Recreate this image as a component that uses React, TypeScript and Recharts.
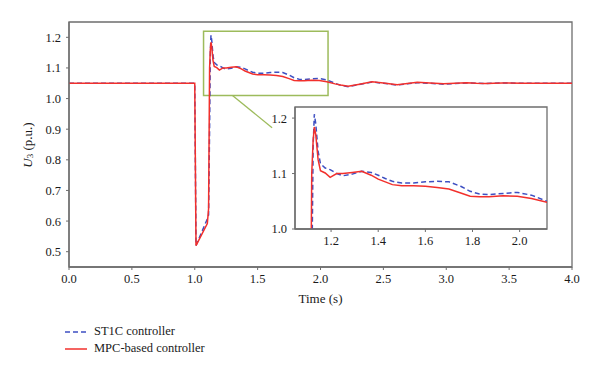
import React from "react";
import {
  Line,
  LineChart,
  ReferenceArea,
  ReferenceLine,
  XAxis,
  YAxis,
} from "recharts";

// time samples (s)
const time = [
  0, 1.0, 1.01, 1.1, 1.11, 1.118, 1.124, 1.129, 1.135, 1.145, 1.155, 1.175,
  1.196, 1.224, 1.25, 1.29, 1.33, 1.37, 1.4, 1.43, 1.46, 1.5, 1.55, 1.6, 1.65,
  1.7, 1.75, 1.79, 1.83, 1.87, 1.93, 1.99, 2.05, 2.116, 2.16, 2.22, 2.3, 2.41,
  2.5, 2.61, 2.69, 2.77, 2.87, 2.98, 3.07, 3.16, 3.24, 3.31, 3.45, 3.6, 3.8, 4.0,
];

const st1c = [
  1.05, 1.05, 0.52, 0.607, 0.62, 0.9, 1.15, 1.207, 1.19, 1.14, 1.118, 1.11,
  1.107, 1.1, 1.096, 1.099, 1.104, 1.102, 1.097, 1.091, 1.086, 1.083, 1.083,
  1.085, 1.086, 1.085, 1.077, 1.068, 1.063, 1.062, 1.064, 1.066, 1.061, 1.05,
  1.043, 1.039, 1.045, 1.054, 1.05, 1.044, 1.048, 1.052, 1.05, 1.047, 1.049,
  1.051, 1.05, 1.049, 1.051, 1.05, 1.05, 1.05,
];

const mpc = [
  1.05, 1.05, 0.52, 0.592, 0.64, 1.1, 1.16, 1.184, 1.17, 1.125, 1.105, 1.101,
  1.093, 1.1, 1.1, 1.102, 1.104, 1.097, 1.09, 1.085, 1.08, 1.078, 1.078, 1.077,
  1.075, 1.072, 1.065, 1.059, 1.058, 1.058, 1.06, 1.059, 1.055, 1.048, 1.044,
  1.04, 1.046, 1.055, 1.051, 1.045, 1.049, 1.053, 1.051, 1.048, 1.05, 1.052,
  1.05, 1.049, 1.051, 1.05, 1.05, 1.05,
];

const xTicks = [0, 0.5, 1.0, 1.5, 2.0, 2.5, 3.0, 3.5, 4.0];
const yTicks = [0.5, 0.6, 0.7, 0.8, 0.9, 1.0, 1.1, 1.2];
const insetXTicks = [1.2, 1.4, 1.6, 1.8, 2.0];
const insetYTicks = [1.0, 1.1, 1.2];

const data = time.map((t, i) => ({ t, st1c: st1c[i], mpc: mpc[i] }));

const FONT = "Liberation Serif, Times New Roman, serif";
const AXIS = "#6e6e6e";
const RED = "#f2302c";
const BLUE = "#3e4fc2";
const GREEN = "#9dbb5c";

const tickStyle = { fontSize: 12.5, fill: "#1a1a1a", fontFamily: FONT };
const fmt = (v: number) => v.toFixed(1);

const YLabel = () => (
  <text
    x={27}
    y={145}
    transform="rotate(-90 27 145)"
    textAnchor="middle"
    dominantBaseline="central"
    fontFamily={FONT}
    fontSize={13}
    fill="#1a1a1a"
  >
    <tspan fontStyle="italic">U</tspan>
    <tspan fontSize={9} dy={3}>
      3
    </tspan>
    <tspan dy={-3}> (p.u.)</tspan>
  </text>
);

export default function App() {
  return (
    <div
      style={{
        position: "absolute",
        left: 0,
        top: 0,
        width: 600,
        height: 373,
        background: "#fff",
        fontFamily: FONT,
      }}
    >
      <LineChart
        width={600}
        height={373}
        data={data}
        margin={{ top: 22, right: 28, left: 29, bottom: 76 }}
        style={{ fontFamily: FONT }}
      >
        <XAxis
          dataKey="t"
          type="number"
          domain={[0, 4]}
          ticks={xTicks}
          tickFormatter={fmt}
          tick={tickStyle}
          tickSize={3}
          tickMargin={4}
          height={30}
          axisLine={{ stroke: AXIS, strokeWidth: 1.3 }}
          tickLine={{ stroke: AXIS }}
          label={{
            value: "Time (s)",
            position: "bottom",
            offset: -3,
            style: { fontSize: 13, fill: "#1a1a1a", fontFamily: FONT },
          }}
        />
        <YAxis
          type="number"
          domain={[0.45, 1.25]}
          ticks={yTicks}
          tickFormatter={fmt}
          tick={tickStyle}
          tickSize={3}
          tickMargin={5}
          width={40}
          axisLine={{ stroke: AXIS, strokeWidth: 1.3 }}
          tickLine={{ stroke: AXIS }}
          label={{ content: () => <YLabel /> }}
        />
        <ReferenceArea
          x1={0}
          x2={4}
          y1={0.45}
          y2={1.25}
          fill="none"
          stroke={AXIS}
          strokeWidth={1.3}
        />
        <ReferenceArea
          x1={1.07}
          x2={2.06}
          y1={1.01}
          y2={1.22}
          fill="none"
          stroke={GREEN}
          strokeWidth={1.5}
        />
        <ReferenceLine
          segment={[
            { x: 1.3, y: 1.01 },
            { x: 1.615, y: 0.905 },
          ]}
          stroke={GREEN}
          strokeWidth={1.3}
        />
        <Line
          dataKey="st1c"
          type="linear"
          stroke={BLUE}
          strokeWidth={1.5}
          strokeDasharray="5 3"
          dot={false}
          isAnimationActive={false}
        />
        <Line
          dataKey="mpc"
          type="linear"
          stroke={RED}
          strokeWidth={1.5}
          dot={false}
          isAnimationActive={false}
        />
      </LineChart>

      <div style={{ position: "absolute", left: 255, top: 100 }}>
        <LineChart
          width={300}
          height={160}
          data={data}
          margin={{ top: 7, right: 8, left: 10, bottom: 6 }}
          style={{ fontFamily: FONT }}
        >
          <XAxis
            dataKey="t"
            type="number"
            domain={[1.047, 2.116]}
            allowDataOverflow
            ticks={insetXTicks}
            tickFormatter={fmt}
            tick={tickStyle}
            tickSize={3}
            tickMargin={4}
            height={25}
            axisLine={{ stroke: AXIS, strokeWidth: 1.3 }}
            tickLine={{ stroke: AXIS }}
          />
          <YAxis
            type="number"
            domain={[1.0, 1.22]}
            allowDataOverflow
            ticks={insetYTicks}
            tickFormatter={fmt}
            tick={tickStyle}
            tickSize={3}
            tickMargin={5}
            width={30}
            axisLine={{ stroke: AXIS, strokeWidth: 1.3 }}
            tickLine={{ stroke: AXIS }}
          />
          <ReferenceArea
            x1={1.047}
            x2={2.116}
            y1={1.0}
            y2={1.22}
            fill="#fff"
            stroke={AXIS}
            strokeWidth={1.3}
          />
          <Line
            dataKey="st1c"
            type="linear"
            stroke={BLUE}
            strokeWidth={1.5}
            strokeDasharray="5 3"
            dot={false}
            isAnimationActive={false}
          />
          <Line
            dataKey="mpc"
            type="linear"
            stroke={RED}
            strokeWidth={1.5}
            dot={false}
            isAnimationActive={false}
          />
        </LineChart>
      </div>

      <div
        style={{
          position: "absolute",
          left: 64,
          top: 323,
          fontSize: 12.5,
          color: "#1a1a1a",
          lineHeight: "17px",
        }}
      >
        {[
          { name: "ST1C controller", color: BLUE, dash: "5 3" },
          { name: "MPC-based controller", color: RED, dash: undefined },
        ].map((s) => (
          <div key={s.name} style={{ display: "flex", alignItems: "center" }}>
            <svg width={30} height={10}>
              <line
                x1={1}
                y1={5}
                x2={23}
                y2={5}
                stroke={s.color}
                strokeWidth={1.5}
                strokeDasharray={s.dash}
              />
            </svg>
            <span>{s.name}</span>
          </div>
        ))}
      </div>
    </div>
  );
}
